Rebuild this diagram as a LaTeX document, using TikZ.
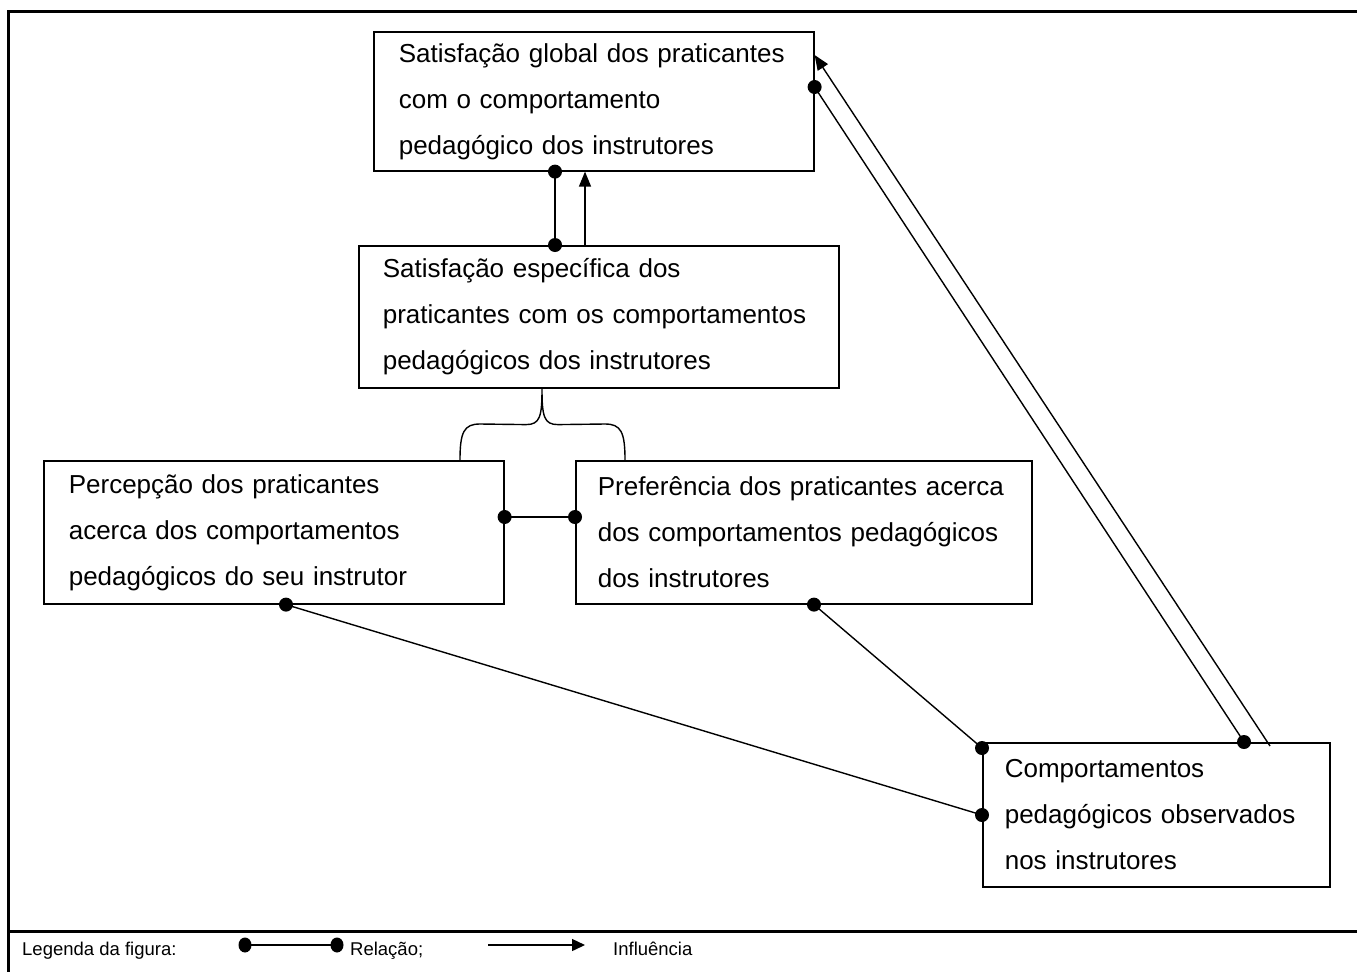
\documentclass[tikz,border=0pt]{standalone}
\usepackage{fontspec}
\setmainfont{Liberation Sans}
\usetikzlibrary{arrows.meta,calc}

\begin{document}
\begin{tikzpicture}[x=1pt,y=-1pt,
  box/.style={draw, line width=1.6pt, align=left, anchor=north west,
              inner ysep=0pt, font=\fontsize{26}{46}\selectfont},
  conn/.style={line width=1.4pt},
  infl/.style={conn, -{Triangle[length=15pt,width=12pt]}},
  frame/.style={line width=3pt},
  legtxt/.style={anchor=base west, inner sep=0pt, font=\fontsize{18.5}{20}\selectfont},
  dot/.style={fill=black}
]
\useasboundingbox (0,0) rectangle (1357,972);

% outer frame and legend separator
\draw[frame] (1357,11) -- (8,11) -- (8,972);
\draw[frame] (8,931) -- (1357,931);

% boxes
\node[box, minimum width=440pt, minimum height=139pt, inner xsep=25pt, text width=390pt]
  (A) at (373,31) {Satisfação global dos praticantes\\com o comportamento\\pedagógico dos instrutores};
\node[box, minimum width=480pt, minimum height=142pt, inner xsep=24pt, text width=432pt]
  (B) at (358,245) {Satisfação específica dos\\praticantes com os comportamentos\\pedagógicos dos instrutores};
\node[box, minimum width=460pt, minimum height=143pt, inner xsep=25pt, text width=410pt]
  (C) at (43,460) {Percepção dos praticantes\\acerca dos comportamentos\\pedagógicos do seu instrutor};
\node[box, minimum width=456pt, minimum height=143pt, inner xsep=22pt, text width=412pt]
  (D) at (575,460) {Preferência dos praticantes acerca\\dos comportamentos pedagógicos\\dos instrutores};
\node[box, minimum width=347pt, minimum height=144pt, inner xsep=22pt, text width=303pt]
  (E) at (982,742) {Comportamentos\\pedagógicos observados\\nos instrutores};

% guide positions along the box edges
\coordinate (xab) at (555,0);
\coordinate (xba) at (585,0);
\coordinate (xtip) at (542,0);
\coordinate (xbl) at (460,0);
\coordinate (xbr) at (625,0);
\coordinate (ycd) at (0,517);
\coordinate (xc) at (286,0);
\coordinate (xd) at (814,0);
\coordinate (ye1) at (0,748);
\coordinate (ye2) at (0,815);
\coordinate (xe1) at (1244,0);
\coordinate (xe2) at (1270,0);
\coordinate (ya1) at (0,87);
\coordinate (ya2) at (0,55);

% A <-> B
\draw[conn] (A.south -| xab) -- (B.north -| xab);
\fill[dot] (A.south -| xab) circle (7);
\fill[dot] (B.north -| xab) circle (7);
\draw[infl] (B.north -| xba) -- (A.south -| xba);

% brace joining C and D under B
\coordinate (tip) at (B.south -| xtip);
\coordinate (bl) at (C.north -| xbl);
\coordinate (br) at (D.north -| xbr);
\draw[conn] (bl) .. controls ($(bl)+(0,-28)$) and ($(bl)+(4,-36)$) .. ($(bl)+(20,-36)$)
  -- ($(tip)+(-16,36)$) .. controls ($(tip)+(-2,36)$) and ($(tip)+(0,28)$) .. (tip)
  .. controls ($(tip)+(0,28)$) and ($(tip)+(2,36)$) .. ($(tip)+(16,36)$)
  -- ($(br)+(-20,-36)$) .. controls ($(br)+(-4,-36)$) and ($(br)+(0,-28)$) .. (br);

% C <-> D
\draw[conn] (C.east |- ycd) -- (D.west |- ycd);
\fill[dot] (C.east |- ycd) circle (7);
\fill[dot] (D.west |- ycd) circle (7);

% C <-> E and D <-> E
\draw[conn] (C.south -| xc) -- (E.west |- ye2);
\fill[dot] (C.south -| xc) circle (7);
\fill[dot] (E.west |- ye2) circle (7);
\draw[conn] (D.south -| xd) -- (E.west |- ye1);
\fill[dot] (D.south -| xd) circle (7);
\fill[dot] (E.west |- ye1) circle (7);

% E <-> A and E -> A
\draw[conn] (E.north -| xe1) -- (A.east |- ya1);
\fill[dot] (E.north -| xe1) circle (7);
\fill[dot] (A.east |- ya1) circle (7);
\draw[infl] ($(E.north -| xe2)+(0,4)$) -- (A.east |- ya2);

% legend
\node[legtxt] (lg) at (22,955) {Legenda da figura:};
\coordinate (r1) at (245,945);
\coordinate (r2) at (337,945);
\draw[conn] (r1) -- (r2);
\fill[dot] (r1) ellipse (6.5 and 7.5);
\fill[dot] (r2) ellipse (6.5 and 7.5);
\node[legtxt] (lrel) at (350,955) {Relação;};
\coordinate (i1) at (488,945);
\coordinate (i2) at (585,945);
\draw[conn, -{Triangle[length=13pt,width=12pt]}] (i1) -- (i2);
\node[legtxt] (linf) at (613,955) {Influência};
\end{tikzpicture}
\end{document}
